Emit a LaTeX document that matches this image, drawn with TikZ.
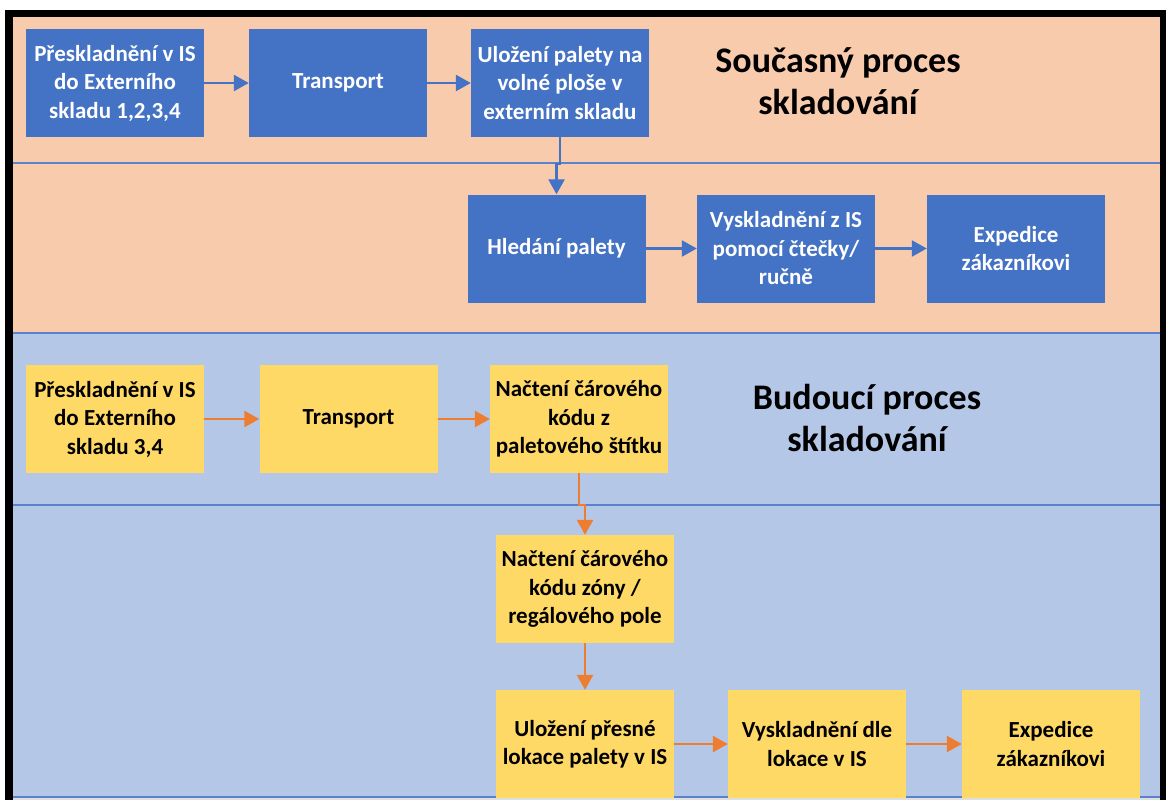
\documentclass[tikz,border=0pt]{standalone}
\usepackage{fontspec}
\setmainfont{Carlito}
\usetikzlibrary{arrows.meta}
\definecolor{boxblue}{HTML}{4472C4}
\definecolor{peach}{HTML}{F8CBAD}
\definecolor{lightblue}{HTML}{B4C7E7}
\definecolor{boxyellow}{HTML}{FFD966}
\definecolor{arrorange}{HTML}{ED7D31}
\definecolor{divblue}{HTML}{5B82CC}
\tikzset{
  bluebox/.style={fill=boxblue, text=white, inner sep=0pt, align=center,
    minimum width=178pt, minimum height=108pt, font=\fontsize{23}{28.5}\selectfont\bfseries},
  yellowbox/.style={fill=boxyellow, text=black, inner sep=0pt, align=center,
    minimum width=178pt, minimum height=108pt, font=\fontsize{23}{28.5}\selectfont\bfseries},
  titletext/.style={inner sep=0pt, align=center, font=\fontsize{36}{42}\selectfont\bfseries},
  barrow/.style={draw=boxblue, line width=2.5pt, -{Triangle[length=15pt,width=16pt]}},
  oarrow/.style={draw=arrorange, line width=2.5pt, -{Triangle[length=15pt,width=16pt]}},
  divider/.style={draw=divblue, line width=2pt}
}
\begin{document}
\begin{tikzpicture}[x=1pt,y=-1pt]
\useasboundingbox (0,0) rectangle (1166,800);
\fill[white] (0,0) rectangle (1166,800);
\fill[black] (5,10) rectangle (1166,800);
\fill[peach] (13,17) rectangle (1160,333);
\fill[lightblue] (13,333) rectangle (1160,797);
\fill[gray!25] (13,797) rectangle (1160,800);
\draw[divider] (13,163) -- (1160,163);
\draw[divider] (13,333) -- (1160,333);
\draw[divider] (13,505) -- (1160,505);
\draw[divider] (13,797) -- (1160,797);

% current process
\node[bluebox] (b1) at (115,83) {Přeskladnění v IS\\do Externího\\skladu 1,2,3,4};
\node[bluebox] (b2) at (338,83) {Transport};
\node[bluebox] (b3) at (560,83) {Uložení palety na\\volné ploše v\\externím skladu};
\node[titletext] (t1) at (838,81) {Současný proces\\skladování};
\node[bluebox] (b4) at (556.5,248.5) {Hledání palety};
\node[bluebox] (b5) at (786,248.5) {Vyskladnění z IS\\pomocí čtečky/\\ručně};
\node[bluebox] (b6) at (1016,248.5) {Expedice\\zákazníkovi};

\draw[barrow] (b1) -- (b2);
\draw[barrow] (b2) -- (b3);
\draw[barrow] (b3.south) -- ++(0,27) -| (b4.north);
\draw[barrow] (b4) -- (b5);
\draw[barrow] (b5) -- (b6);

% future process
\node[yellowbox] (y1) at (115,419) {Přeskladnění v IS\\do Externího\\skladu 3,4};
\node[yellowbox] (y2) at (348.5,419) {Transport};
\node[yellowbox] (y3) at (579,419) {Načtení čárového\\kódu z\\paletového štítku};
\node[titletext] (t2) at (867,418) {Budoucí proces\\skladování};
\node[yellowbox] (y4) at (585,589) {Načtení čárového\\kódu zóny /\\regálového pole};
\node[yellowbox] (y5) at (585,744) {Uložení přesné\\lokace palety v IS};
\node[yellowbox] (y6) at (817,744) {Vyskladnění dle\\lokace v IS};
\node[yellowbox] (y7) at (1051,744) {Expedice\\zákazníkovi};

\draw[oarrow] (y1) -- (y2);
\draw[oarrow] (y2) -- (y3);
\draw[oarrow] (y3.south) -- ++(0,32) -| (y4.north);
\draw[oarrow] (y4) -- (y5);
\draw[oarrow] (y5) -- (y6);
\draw[oarrow] (y6) -- (y7);
\end{tikzpicture}
\end{document}
